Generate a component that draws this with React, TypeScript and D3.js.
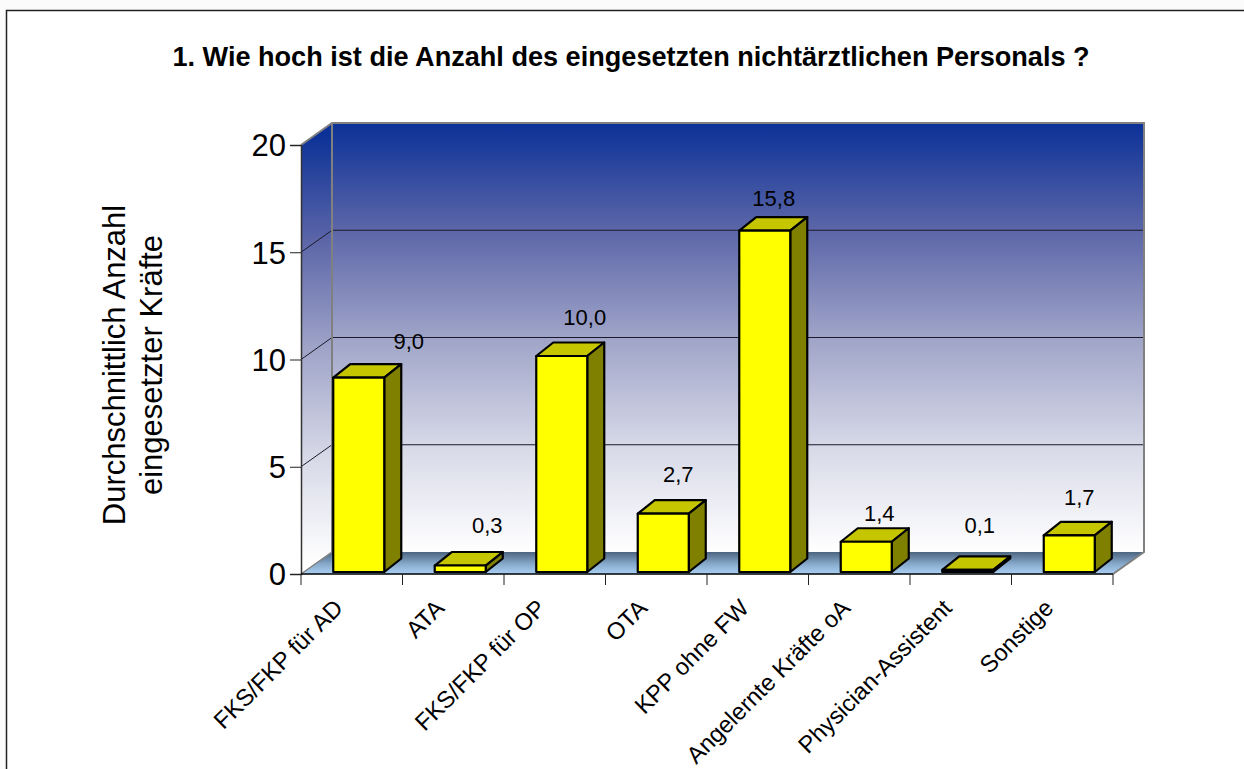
import React, { useEffect, useRef } from 'react';
import { select, scaleBand, scaleLinear, axisLeft, format } from 'd3';

const titleText = '1. Wie hoch ist die Anzahl des eingesetzten nichtärztlichen Personals ?';
const yTitleLines = ['Durchschnittlich Anzahl', 'eingesetzter Kräfte'];
const categories = [
  'FKS/FKP für AD',
  'ATA',
  'FKS/FKP für OP',
  'OTA',
  'KPP ohne FW',
  'Angelernte Kräfte oA',
  'Physician-Assistent',
  'Sonstige',
];
const values = [9.0, 0.3, 10.0, 2.7, 15.8, 1.4, 0.1, 1.7];
const yTicks = [0, 5, 10, 15, 20];

// the value labels were hand placed in the original, so shift them per bar
const labelShiftX = [50, 27, 23, 15, 9, 13, 12, 10];
const labelShiftY = [-22.5, -26, -24.5, -25, -18.5, -14, -30, -24];

const W = 1244;
const H = 769;
const FONT = '"Liberation Sans", Arial, sans-serif';

// front plane of the 3d box and how far the back wall is pushed
const left = 301;
const right = 1113;
const bottom = 574;
const top = 145;
const depthX = 31;
const depthY = -22;

// bars sit a bit inside the box, so they get their own baseline
const barWidth = 51;
const barDepthX = 17;
const barDepthY = -13.5;
const barInsetX = 7;
const barBase = 572;
const barTopAt20 = 140;

const pts = (p: number[][]) => p.map(d => d.join(',')).join(' ');

export default function App() {
  const ref = useRef<SVGSVGElement>(null);

  useEffect(() => {
    const svg = select(ref.current);
    svg.selectAll('*').remove();

    const x = scaleBand<string>().domain(categories).range([left, right]);
    const y = scaleLinear().domain([0, 20]).range([bottom, top]);
    const yBar = scaleLinear().domain([0, 20]).range([barBase, barTopAt20]);
    const fmt = (v: number) => format('.1f')(v).replace('.', ',');

    const defs = svg.append('defs');
    const gradient = (id: string, y1: number, y2: number, stops: [number, string][]) => {
      const g = defs.append('linearGradient')
        .attr('id', id)
        .attr('gradientUnits', 'userSpaceOnUse')
        .attr('x1', 0).attr('x2', 0)
        .attr('y1', y1).attr('y2', y2);
      stops.forEach(s => g.append('stop').attr('offset', s[0]).attr('stop-color', s[1]));
    };
    const wallStops: [number, string][] = [
      [0, '#0b3197'],
      [0.25, '#5c66a8'],
      [0.5, '#9fa4c8'],
      [0.75, '#d6d8e7'],
      [1, '#ffffff'],
    ];
    gradient('wall', top + depthY, bottom + depthY, wallStops);
    gradient('sideWall', top + depthY / 2, bottom + depthY / 2, wallStops);
    gradient('floor', bottom + depthY, bottom, [
      [0, '#4d6580'],
      [0.55, '#87aacb'],
      [1, '#a9d0f3'],
    ]);

    // page and frame
    svg.append('rect').attr('width', W).attr('height', H).attr('fill', '#fbfbfb');
    svg.append('path')
      .attr('d', `M${W + 5},${H + 5}H6.5V10.5H${W + 5}Z`)
      .attr('fill', '#fff')
      .attr('stroke', '#222')
      .attr('stroke-width', 1.5);

    // box walls
    svg.append('polygon')
      .attr('points', pts([[left + depthX, top + depthY], [right + depthX, top + depthY], [right + depthX, bottom + depthY], [left + depthX, bottom + depthY]]))
      .attr('fill', 'url(#wall)');
    svg.append('polygon')
      .attr('points', pts([[left, top], [left + depthX, top + depthY], [left + depthX, bottom + depthY], [left, bottom]]))
      .attr('fill', 'url(#sideWall)');
    svg.append('polygon')
      .attr('points', pts([[left, bottom], [left + depthX, bottom + depthY], [right + depthX, bottom + depthY], [right, bottom]]))
      .attr('fill', 'url(#floor)');

    // gridlines over back and side wall
    svg.append('g').selectAll('polyline').data(yTicks.slice(1, -1)).enter()
      .append('polyline')
      .attr('points', d => pts([[left, y(d)], [left + depthX, y(d) + depthY], [right + depthX, y(d) + depthY]]))
      .attr('fill', 'none')
      .attr('stroke', '#1a1a2a')
      .attr('stroke-width', 1);

    // box edges
    svg.append('polyline')
      .attr('points', pts([[left, top], [left + depthX, top + depthY], [right + depthX, top + depthY], [right + depthX, bottom + depthY], [right, bottom]]))
      .attr('fill', 'none').attr('stroke', '#808080').attr('stroke-width', 2);
    svg.append('line')
      .attr('x1', left + depthX).attr('x2', left + depthX)
      .attr('y1', top + depthY).attr('y2', bottom + depthY)
      .attr('stroke', '#808080').attr('stroke-width', 2);
    svg.append('line')
      .attr('x1', left).attr('x2', left + depthX)
      .attr('y1', bottom).attr('y2', bottom + depthY)
      .attr('stroke', '#808080').attr('stroke-width', 1.5);

    // y axis
    const yAxis = axisLeft(y).tickValues(yTicks).tickSize(11).tickPadding(4).tickFormat(d => String(d));
    const yG = svg.append('g').attr('transform', `translate(${left},0)`).call(yAxis as any);
    yG.select('.domain').attr('stroke', '#333').attr('stroke-width', 1.5);
    yG.selectAll('.tick line').attr('stroke', '#222').attr('stroke-width', 1);
    yG.selectAll('.tick text')
      .attr('fill', '#000')
      .attr('y', 1)
      .style('font-family', FONT)
      .style('font-size', '31px');

    // x axis, ticks sit between the categories
    const step = x.step();
    const xEdges = [...categories.map(c => x(c) as number), right];
    svg.append('line')
      .attr('x1', left).attr('x2', right)
      .attr('y1', bottom).attr('y2', bottom)
      .attr('stroke', '#000').attr('stroke-width', 1.5);
    svg.append('g').selectAll('line').data(xEdges).enter()
      .append('line')
      .attr('x1', d => d).attr('x2', d => d)
      .attr('y1', bottom).attr('y2', bottom + 11)
      .attr('stroke', '#222').attr('stroke-width', 1);
    svg.append('g').selectAll('text').data(categories).enter()
      .append('text')
      .attr('transform', d => `translate(${(x(d) as number) + step / 2 - 7.5},${bottom + 35.5}) rotate(-45)`)
      .attr('text-anchor', 'end')
      .attr('font-family', FONT)
      .attr('font-size', 23.7)
      .attr('fill', '#000')
      .text(d => d);

    // bars
    const bars = svg.append('g').selectAll('g').data(categories).enter().append('g')
      .attr('stroke', '#000')
      .attr('stroke-width', 2.2)
      .attr('stroke-linejoin', 'round');
    const bx0 = (c: string) => (x(c) as number) + (step - barWidth) / 2 + barInsetX;
    const byTop = (i: number) => yBar(values[i]);
    bars.append('polygon')
      .attr('fill', '#c6c600')
      .attr('points', (c, i) => pts([
        [bx0(c), byTop(i)],
        [bx0(c) + barDepthX, byTop(i) + barDepthY],
        [bx0(c) + barWidth + barDepthX, byTop(i) + barDepthY],
        [bx0(c) + barWidth, byTop(i)],
      ]));
    bars.append('polygon')
      .attr('fill', '#808000')
      .attr('points', (c, i) => pts([
        [bx0(c) + barWidth, byTop(i)],
        [bx0(c) + barWidth + barDepthX, byTop(i) + barDepthY],
        [bx0(c) + barWidth + barDepthX, barBase + barDepthY],
        [bx0(c) + barWidth, barBase],
      ]));
    bars.append('rect')
      .attr('fill', '#ffff00')
      .attr('x', c => bx0(c))
      .attr('y', (c, i) => byTop(i))
      .attr('width', barWidth)
      .attr('height', (c, i) => barBase - byTop(i));

    // value labels
    svg.append('g').selectAll('text').data(values).enter()
      .append('text')
      .attr('x', (d, i) => bx0(categories[i]) + barWidth / 2 + labelShiftX[i])
      .attr('y', (d, i) => byTop(i) + barDepthY + labelShiftY[i] + 7)
      .attr('text-anchor', 'middle')
      .attr('font-family', FONT)
      .attr('font-size', 22)
      .attr('fill', '#000')
      .text(d => fmt(d));

    // titles
    svg.append('text')
      .attr('x', 631).attr('y', 66)
      .attr('text-anchor', 'middle')
      .attr('font-family', FONT)
      .attr('font-size', 27.1)
      .attr('font-weight', 'bold')
      .attr('fill', '#000')
      .text(titleText);
    svg.append('g').selectAll('text').data(yTitleLines).enter()
      .append('text')
      .attr('transform', (d, i) => `translate(${125 + i * 37},365) rotate(-90)`)
      .attr('text-anchor', 'middle')
      .attr('font-family', FONT)
      .attr('font-size', 31)
      .attr('fill', '#000')
      .text(d => d);
  }, []);

  return (
    <svg
      ref={ref}
      width={W}
      height={H}
      style={{ position: 'absolute', left: 0, top: 0, display: 'block' }}
    />
  );
}
